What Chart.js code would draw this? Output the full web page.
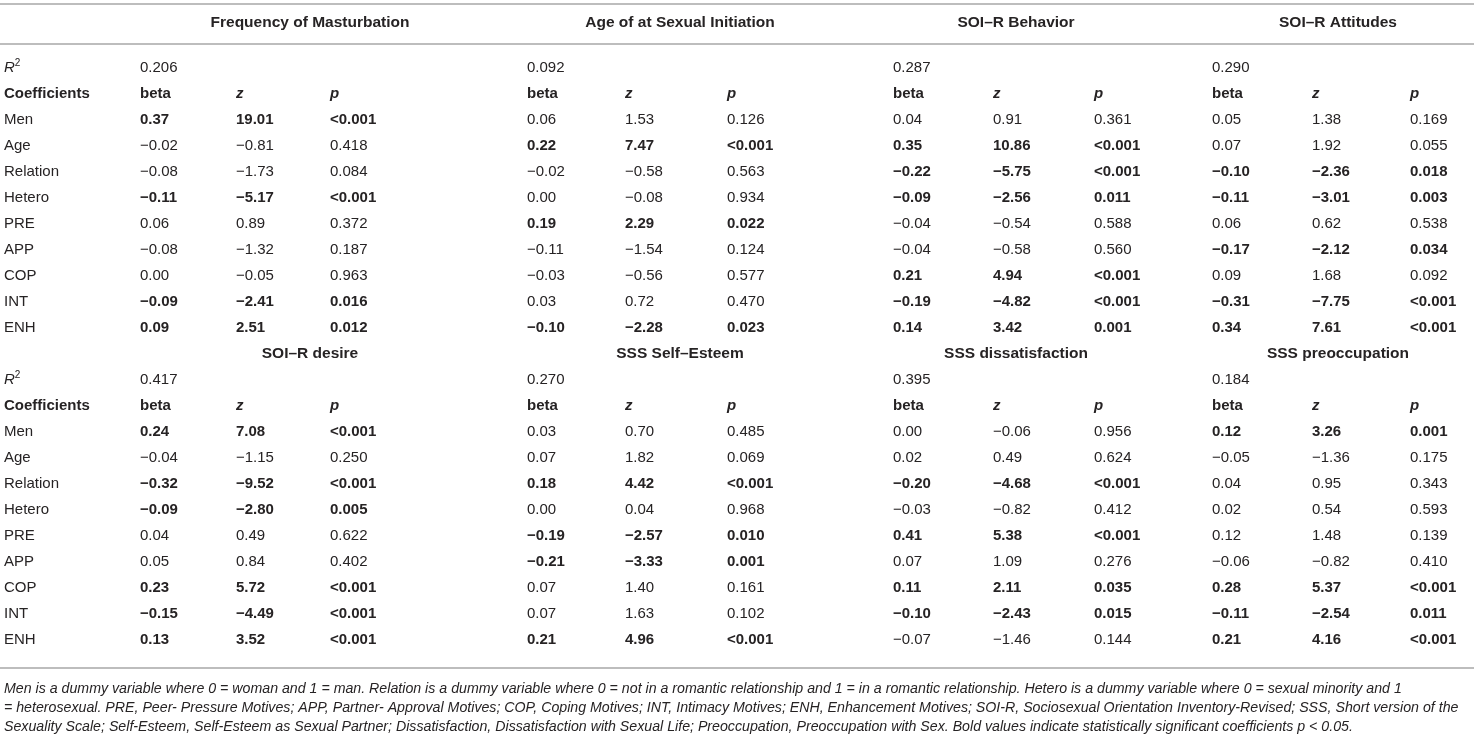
<!DOCTYPE html>
<html>
<head>
<meta charset="utf-8">
<script src="https://cdn.jsdelivr.net/npm/chart.js@4.4.1/dist/chart.umd.min.js"></script>
<style>
  html, body { margin: 0; padding: 0; background: #fff; overflow: hidden; }
  canvas { display: block; }
</style>
</head>
<body>
<canvas id="tbl" width="1474" height="738"></canvas>
<script>
// ---- table data ----
const modelTitles = ['Frequency of Masturbation', 'Age of at Sexual Initiation', 'SOI–R Behavior', 'SOI–R Attitudes',
                     'SOI–R desire', 'SSS Self–Esteem', 'SSS dissatisfaction', 'SSS preoccupation'];
const rSquared = ['0.206', '0.092', '0.287', '0.290', '0.417', '0.270', '0.395', '0.184'];
const predictors = ['Men', 'Age', 'Relation', 'Hetero', 'PRE', 'APP', 'COP', 'INT', 'ENH'];
const statHeads = ['beta', 'z', 'p'];

// one row per model, values in predictor order
const betaValues = [
  ['0.37', '−0.02', '−0.08', '−0.11', '0.06', '−0.08', '0.00', '−0.09', '0.09'],
  ['0.06', '0.22', '−0.02', '0.00', '0.19', '−0.11', '−0.03', '0.03', '−0.10'],
  ['0.04', '0.35', '−0.22', '−0.09', '−0.04', '−0.04', '0.21', '−0.19', '0.14'],
  ['0.05', '0.07', '−0.10', '−0.11', '0.06', '−0.17', '0.09', '−0.31', '0.34'],
  ['0.24', '−0.04', '−0.32', '−0.09', '0.04', '0.05', '0.23', '−0.15', '0.13'],
  ['0.03', '0.07', '0.18', '0.00', '−0.19', '−0.21', '0.07', '0.07', '0.21'],
  ['0.00', '0.02', '−0.20', '−0.03', '0.41', '0.07', '0.11', '−0.10', '−0.07'],
  ['0.12', '−0.05', '0.04', '0.02', '0.12', '−0.06', '0.28', '−0.11', '0.21']
];
const zValues = [
  ['19.01', '−0.81', '−1.73', '−5.17', '0.89', '−1.32', '−0.05', '−2.41', '2.51'],
  ['1.53', '7.47', '−0.58', '−0.08', '2.29', '−1.54', '−0.56', '0.72', '−2.28'],
  ['0.91', '10.86', '−5.75', '−2.56', '−0.54', '−0.58', '4.94', '−4.82', '3.42'],
  ['1.38', '1.92', '−2.36', '−3.01', '0.62', '−2.12', '1.68', '−7.75', '7.61'],
  ['7.08', '−1.15', '−9.52', '−2.80', '0.49', '0.84', '5.72', '−4.49', '3.52'],
  ['0.70', '1.82', '4.42', '0.04', '−2.57', '−3.33', '1.40', '1.63', '4.96'],
  ['−0.06', '0.49', '−4.68', '−0.82', '5.38', '1.09', '2.11', '−2.43', '−1.46'],
  ['3.26', '−1.36', '0.95', '0.54', '1.48', '−0.82', '5.37', '−2.54', '4.16']
];
const pValues = [
  ['<0.001', '0.418', '0.084', '<0.001', '0.372', '0.187', '0.963', '0.016', '0.012'],
  ['0.126', '<0.001', '0.563', '0.934', '0.022', '0.124', '0.577', '0.470', '0.023'],
  ['0.361', '<0.001', '<0.001', '0.011', '0.588', '0.560', '<0.001', '<0.001', '0.001'],
  ['0.169', '0.055', '0.018', '0.003', '0.538', '0.034', '0.092', '<0.001', '<0.001'],
  ['<0.001', '0.250', '<0.001', '0.005', '0.622', '0.402', '<0.001', '<0.001', '<0.001'],
  ['0.485', '0.069', '<0.001', '0.968', '0.010', '0.001', '0.161', '0.102', '<0.001'],
  ['0.956', '0.624', '<0.001', '0.412', '<0.001', '0.276', '0.035', '0.015', '0.144'],
  ['0.001', '0.175', '0.343', '0.593', '0.139', '0.410', '<0.001', '0.011', '<0.001']
];

const footnoteLines = [
  'Men is a dummy variable where 0 = woman and 1 = man. Relation is a dummy variable where 0 = not in a romantic relationship and 1 = in a romantic relationship. Hetero is a dummy variable where 0 = sexual minority and 1',
  '= heterosexual. PRE, Peer- Pressure Motives; APP, Partner- Approval Motives; COP, Coping Motives; INT, Intimacy Motives; ENH, Enhancement Motives; SOI-R, Sociosexual Orientation Inventory-Revised; SSS, Short version of the',
  'Sexuality Scale; Self-Esteem, Self-Esteem as Sexual Partner; Dissatisfaction, Dissatisfaction with Sexual Life; Preoccupation, Preoccupation with Sex. Bold values indicate statistically significant coefficients p < 0.05.'
];

// ---- layout (pixel units of the x/y scales) ----
const W = 1474, H = 738;
const FONT = '"Liberation Sans", Arial, Helvetica, sans-serif';
const TEXT_COLOR = '#262324';
const RULE_COLOR = '#bdbdbd';
const BODY_SIZE = 15;
const HEAD_SIZE = 15.5;
const LABEL_X = 4;
const GROUP_CENTER = [310, 680, 1016, 1338];
const COL_X = [[140, 236, 330], [527, 625, 727], [893, 993, 1094], [1212, 1312, 1410]];
const HEAD_Y = [23, 354];
const BODY_Y = [68, 380];
const ROW_H = 26;
const RULE_Y = [4, 44, 668];
const NOTE_X = 4;
const NOTE_Y = [689, 708, 727];
const NOTE_WIDTH = 1455;

const isSignificant = p => p.startsWith('<') || parseFloat(p) < 0.05;

// build the text cells
const cells = [];
for (let block = 0; block < 2; block++) {
  const y0 = BODY_Y[block];
  cells.push({ x: LABEL_X, y: y0, text: 'R', kind: 'r2' });
  cells.push({ x: LABEL_X, y: y0 + ROW_H, text: 'Coefficients', bold: true });
  predictors.forEach((name, r) => {
    cells.push({ x: LABEL_X, y: y0 + (r + 2) * ROW_H, text: name });
  });
  for (let g = 0; g < 4; g++) {
    const m = block * 4 + g;
    const cols = COL_X[g];
    cells.push({ x: GROUP_CENTER[g], y: HEAD_Y[block], text: modelTitles[m], kind: 'head' });
    cells.push({ x: cols[0], y: y0, text: rSquared[m] });
    statHeads.forEach((h, c) => {
      cells.push({ x: cols[c], y: y0 + ROW_H, text: h, bold: true, italic: c > 0 });
    });
    predictors.forEach((name, r) => {
      const sig = isSignificant(pValues[m][r]);
      const y = y0 + (r + 2) * ROW_H;
      cells.push({ x: cols[0], y: y, text: betaValues[m][r], bold: sig });
      cells.push({ x: cols[1], y: y, text: zValues[m][r], bold: sig });
      cells.push({ x: cols[2], y: y, text: pValues[m][r], bold: sig });
    });
  }
}
footnoteLines.forEach((line, i) => {
  cells.push({ x: NOTE_X, y: NOTE_Y[i], text: line, kind: 'note' });
});

const ruleSets = RULE_Y.map(y => ({
  type: 'line',
  data: [{ x: 0, y: y }, { x: W, y: y }],
  borderColor: RULE_COLOR,
  borderWidth: 2,
  pointRadius: 0,
  fill: false
}));

// draws the text of every cell at the pixel the scales give its point
const cellText = {
  id: 'cellText',
  afterDatasetsDraw(chart) {
    const ctx = chart.ctx;
    const meta = chart.getDatasetMeta(0);
    const src = chart.data.datasets[0].data;

    // footnote size fitted to its widest line
    ctx.font = 'italic 14px ' + FONT;
    const widest = Math.max(...footnoteLines.map(l => ctx.measureText(l).width));
    const noteSize = 14 * NOTE_WIDTH / widest;

    ctx.save();
    ctx.fillStyle = TEXT_COLOR;
    ctx.textBaseline = 'middle';
    meta.data.forEach((pt, i) => {
      const c = src[i];
      if (c.kind === 'note') {
        ctx.font = 'italic ' + noteSize.toFixed(2) + 'px ' + FONT;
        ctx.textAlign = 'left';
        ctx.fillText(c.text, pt.x, pt.y);
        return;
      }
      if (c.kind === 'r2') {
        ctx.textAlign = 'left';
        ctx.font = 'italic ' + BODY_SIZE + 'px ' + FONT;
        ctx.fillText('R', pt.x, pt.y);
        const w = ctx.measureText('R').width;
        ctx.font = '10px ' + FONT;
        ctx.fillText('2', pt.x + w, pt.y - 5);
        return;
      }
      if (c.kind === 'head') {
        ctx.font = 'bold ' + HEAD_SIZE + 'px ' + FONT;
        ctx.textAlign = 'center';
        ctx.fillText(c.text, pt.x, pt.y);
        return;
      }
      ctx.font = (c.italic ? 'italic ' : '') + (c.bold ? 'bold ' : '') + BODY_SIZE + 'px ' + FONT;
      ctx.textAlign = 'left';
      ctx.fillText(c.text, pt.x, pt.y);
    });
    ctx.restore();
  }
};

new Chart(document.getElementById('tbl'), {
  type: 'scatter',
  data: {
    datasets: [
      { label: 'cells', data: cells, pointRadius: 0, pointHoverRadius: 0, showLine: false },
      ...ruleSets
    ]
  },
  options: {
    responsive: false,
    animation: false,
    events: [],
    layout: { padding: 0 },
    plugins: { legend: { display: false }, tooltip: { enabled: false } },
    scales: {
      x: { type: 'linear', min: 0, max: W, display: false },
      y: { type: 'linear', min: 0, max: H, reverse: true, display: false }
    }
  },
  plugins: [cellText]
});
</script>
</body>
</html>
